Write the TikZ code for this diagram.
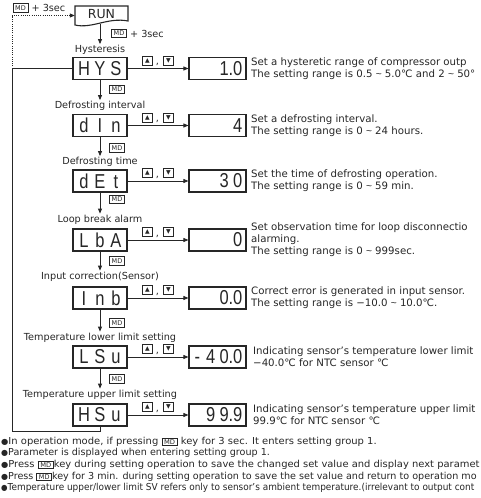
\documentclass[tikz,border=0pt]{standalone}
\usepackage{fontspec}
\usepackage{graphicx}
\setmainfont{DejaVu Sans}
\newfontfamily\segfont{Liberation Sans}
\usetikzlibrary{arrows.meta}
\definecolor{ink}{RGB}{38,38,38}
\newcommand\sg[1]{\makebox[16pt]{#1}}
\newcommand\dg[1]{\makebox[13.5pt]{#1}}
\newcommand\dt{\makebox[0pt]{.}}
\newcommand\tld{{\segfont\char"007E}}
\newcommand\mdin{{\setlength{\fboxsep}{0.8pt}\setlength{\fboxrule}{0.6pt}\fbox{\fontsize{6.5}{6.5}\selectfont\,MD\,}}}
\newcommand\bul{{\fontsize{8}{8}\selectfont ●}}
\tikzset{
  pbox/.style={draw=ink, line width=1.1pt, minimum width=54pt, minimum height=22pt, inner sep=0pt,
    text=ink, font=\segfont\fontsize{16.5}{16.5}\selectfont},
  vbox/.style={draw=ink, line width=1.1pt, minimum height=22pt, inner sep=1.5pt,
    text width=54pt, align=right, text=ink, font=\segfont\fontsize{16.5}{16.5}\selectfont},
  lbl/.style={font=\fontsize{9.7}{10}\selectfont, text=ink, inner sep=1pt},
  keyb/.style={draw=ink, line width=0.7pt, minimum width=10pt, minimum height=9pt, inner sep=0pt,
    text=ink, font=\fontsize{6}{6}\selectfont},
  mdb/.style={draw=ink, line width=0.7pt, minimum width=15pt, minimum height=8.5pt, inner sep=0pt,
    text=ink, font=\fontsize{6.5}{6.5}\selectfont},
  desc/.style={anchor=west, font=\fontsize{10.2}{12}\selectfont, text=ink, inner sep=0pt, align=left},
  conn/.style={draw=ink, line width=0.8pt},
  arr/.style={conn, -{Triangle[length=5pt,width=4pt]}},
  dotline/.style={dash pattern=on 1pt off 1.2pt},
}
\begin{document}
\begin{tikzpicture}[x=1pt,y=-1pt]
\useasboundingbox (0,0) rectangle (480,498);
\clip (0,0) rectangle (480,498);

% RUN box (document shape)
\node[font=\fontsize{12.5}{12.5}\selectfont, text=ink, minimum width=53pt, minimum height=19pt, inner sep=0pt] (run) at (101.5,15.5) {\raisebox{3pt}{RUN}};
\draw[draw=ink, line width=1.1pt] (75,6) -- (128,6) -- (128,21) .. controls (108,17) and (92,29) .. (75,25) -- cycle;
\coordinate (runb) at (100,23.5);

% top-left MD + 3sec
\node[mdb] (mtop) at (20.5,8) {MD};
\node[lbl, anchor=west] (ttop) at ([xshift=2pt]mtop.east) {+ 3sec};
% MD + 3sec beside RUN arrow
\node[mdb] (m0) at (119,33.5) {MD};
\node[lbl, anchor=west] (t0) at ([xshift=2pt]m0.east) {+ 3sec};

\foreach \i/\y/\ly/\dx/\lab/\p/\v/\d in {
 1/68.5/50/251/Hysteresis/{\sg{H}\sg{Y}\sg{S}}/{\dg{1}\dt\dg{0}}/{Set a hysteretic range of compressor outp\\The setting range is 0.5 \tld{} 5.0℃ and 2 \tld{} 50°},
 2/125.5/106/251/Defrosting interval/{\sg{d}\sg{I}\sg{n}}/{\dg{4}}/{Set a defrosting interval.\\The setting range is 0 \tld{} 24 hours.},
 3/181/162/251/Defrosting time/{\sg{d}\sg{E}\sg{t}}/{\dg{3}\dg{0}}/{Set the time of defrosting operation.\\The setting range is 0 \tld{} 59 min.},
 4/240/219.5/251/Loop break alarm/{\sg{L}\sg{b}\sg{A}}/{\dg{0}}/{Set observation time for loop disconnectio\\alarming.\\The setting range is 0 \tld{} 999sec.},
 5/298/276.5/251/Input correction(Sensor)/{\sg{I}\sg{n}\sg{b}}/{\dg{0}\dt\dg{0}}/{Correct error is generated in input sensor.\\The setting range is −10.0 \tld{} 10.0℃.},
 6/357/337.5/253/Temperature lower limit setting/{\sg{L}\sg{S}\sg{u}}/{\dg{-}\dg{4}\dg{0}\dt\dg{0}}/{Indicating sensor's temperature lower limit\\−40.0℃ for NTC sensor ℃},
 7/415/394.5/253/Temperature upper limit setting/{\sg{H}\sg{S}\sg{u}}/{\dg{9}\dg{9}\dt\dg{9}}/{Indicating sensor's temperature upper limit\\99.9℃ for NTC sensor ℃}}
{
  \node[pbox] (p\i) at (100,\y) {\scalebox{1}[1.22]{\p}};
  \node[lbl] (l\i) at (100,\ly) {\lab};
  \node[vbox] (v\i) at (217.5,\y) {\scalebox{1}[1.22]{\v}};
  \draw[arr] (p\i.east) -- (v\i.west);
  \node[keyb] (ku\i) at (147.5,\y-8) {▲};
  \node[keyb] (kd\i) at (168.5,\y-8) {▼};
  \node[lbl, anchor=base] (kc\i) at (157.5,\y-4) {,};
  \node[desc] (d\i) at (\dx,\y) {\d};
}

% MD keys between rows and downward arrows
\foreach \i/\j/\my in {1/2/89.5, 2/3/148, 3/4/199.5, 4/5/261, 5/6/323, 6/7/379}{
  \node[mdb] (m\i) at (117,\my) {MD};
  \draw[arr] (p\i.south) -- (l\j.north);
}
\draw[arr] (runb) -- (l1.north);

% loop back and dotted path to RUN
\coordinate (lc) at (12,431);
\coordinate (jn) at (12,68.5);
\draw[conn] (p7.south) |- (lc) |- (p1.west);
\draw[arr, dotline] (jn) |- (run.west);

% notes
\node[anchor=north west, align=left, inner sep=0pt, text=ink, font=\fontsize{9.6}{11.7}\selectfont] (notes) at (1,436.5) {%
\scalebox{1.04}[1]{\bul In operation mode, if pressing \mdin{} key for 3 sec. It enters setting group 1.}\\
\bul Parameter is displayed when entering setting group 1.\\
\scalebox{1.035}[1]{\bul Press \mdin{}key during setting operation to save the changed set value and display next paramet}\\
\bul Press \mdin{}key for 3 min. during setting operation to save the set value and return to operation mo\\
\scalebox{0.93}[1]{\bul Temperature upper/lower limit SV refers only to sensor's ambient temperature.(irrelevant to output cont}};
\end{tikzpicture}
\end{document}
